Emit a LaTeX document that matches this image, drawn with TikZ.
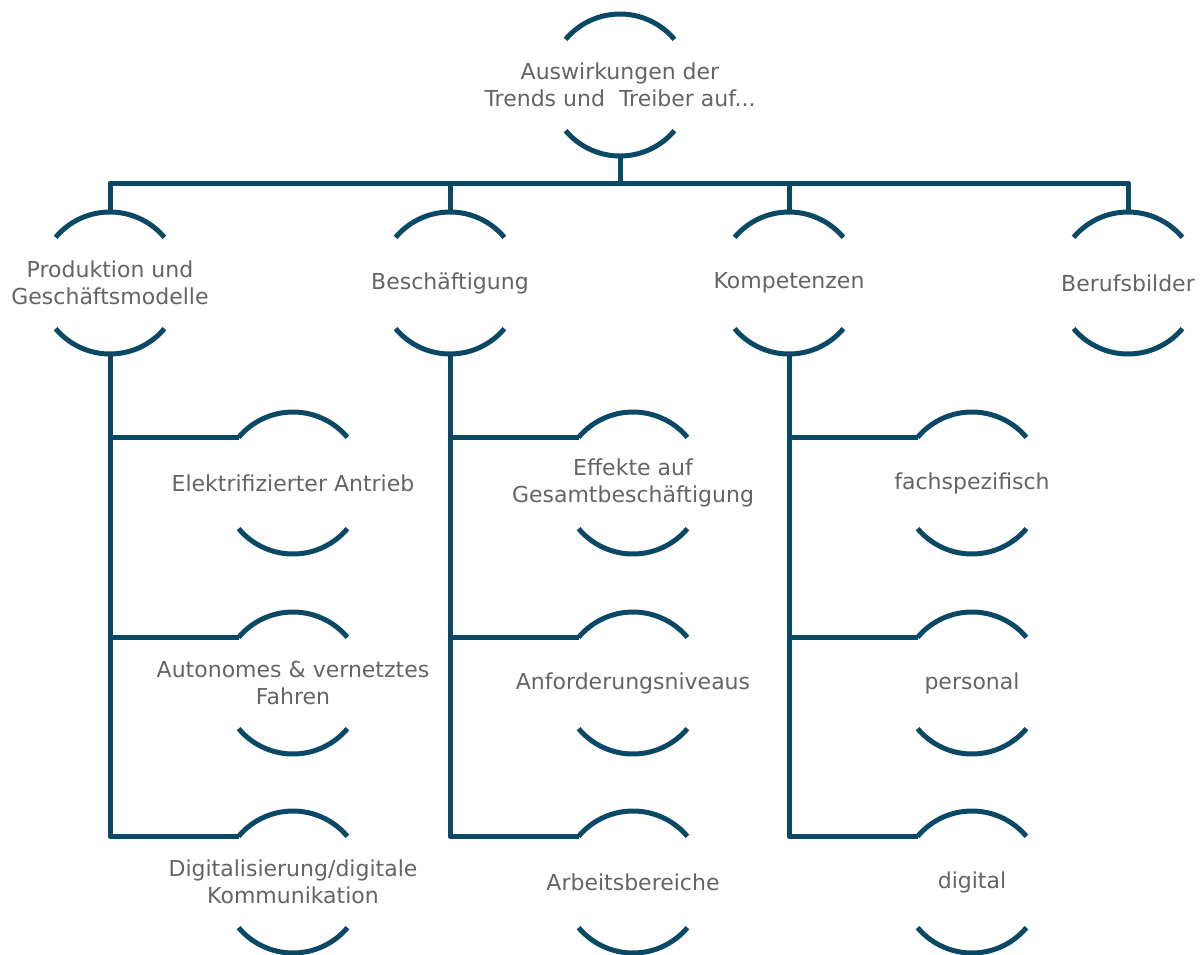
\documentclass[tikz,border=0pt]{standalone}
\usepackage{fontspec}
\setmainfont{DejaVu Sans}
\definecolor{lineblue}{RGB}{10,73,102}
\definecolor{txtgray}{RGB}{100,100,100}
\tikzset{
  txt/.style={align=center, text=txtgray, font=\fontsize{22}{27}\selectfont, inner sep=0pt},
  arcline/.style={draw=lineblue, line width=5pt},
  conn/.style={draw=lineblue, line width=5pt, line join=round}
}
\newcommand\arcpair[1]{%
  \draw[arcline] ([shift={(40:71pt)}]#1.center) arc[start angle=40,end angle=140,radius=71pt];
  \draw[arcline] ([shift={(220:71pt)}]#1.center) arc[start angle=220,end angle=320,radius=71pt];}
\begin{document}
\begin{tikzpicture}[x=1pt,y=1pt]
\useasboundingbox (0,0) rectangle (1203,-954);
% nodes
\node[txt] (top) at (620,-85) {Auswirkungen der\\Trends und~ Treiber auf...};
\node[txt] (p1) at (110,-283) {Produktion und\\Geschäftsmodelle};
\node[txt] (p2) at (450,-283) {Beschäftigung};
\node[txt] (p3) at (789,-283) {Kompetenzen};
\node[txt] (p4) at (1128,-283) {Berufsbilder};
\node[txt] (c11) at (293,-483) {Elektrifizierter Antrieb};
\node[txt] (c12) at (293,-683) {Autonomes \& vernetztes\\Fahren};
\node[txt] (c13) at (293,-882) {Digitalisierung/digitale\\Kommunikation};
\node[txt] (c21) at (633,-483) {Effekte auf\\Gesamtbeschäftigung};
\node[txt] (c22) at (633,-683) {Anforderungsniveaus};
\node[txt] (c23) at (633,-882) {Arbeitsbereiche};
\node[txt] (c31) at (972,-483) {fachspezifisch};
\node[txt] (c32) at (972,-683) {personal};
\node[txt] (c33) at (972,-882) {digital};
% arcs
\foreach \n in {top,p1,p2,p3,p4,c11,c12,c13,c21,c22,c23,c31,c32,c33}{\arcpair{\n}}
% anchor points on circles
\foreach \n in {top,p1,p2,p3,p4,c11,c12,c13,c21,c22,c23,c31,c32,c33}{
  \coordinate (\n-n) at ([yshift=71pt]\n.center);
  \coordinate (\n-s) at ([yshift=-71pt]\n.center);
  \coordinate (\n-l) at ([shift={(140:71pt)}]\n.center);
}
\coordinate (bar) at (620,-183);
% connectors
\draw[conn] (top-s) -- (top-s |- bar);
\draw[conn] (p1-n) -- (p1-n |- bar) -- (p4-n |- bar) -- (p4-n);
\draw[conn] (p2-n) -- (p2-n |- bar);
\draw[conn] (p3-n) -- (p3-n |- bar);
\draw[conn] (p1-s) |- (c13-l);
\draw[conn] (p1-s |- c11-l) -- (c11-l);
\draw[conn] (p1-s |- c12-l) -- (c12-l);
\draw[conn] (p2-s) |- (c23-l);
\draw[conn] (p2-s |- c21-l) -- (c21-l);
\draw[conn] (p2-s |- c22-l) -- (c22-l);
\draw[conn] (p3-s) |- (c33-l);
\draw[conn] (p3-s |- c31-l) -- (c31-l);
\draw[conn] (p3-s |- c32-l) -- (c32-l);
\end{tikzpicture}
\end{document}
